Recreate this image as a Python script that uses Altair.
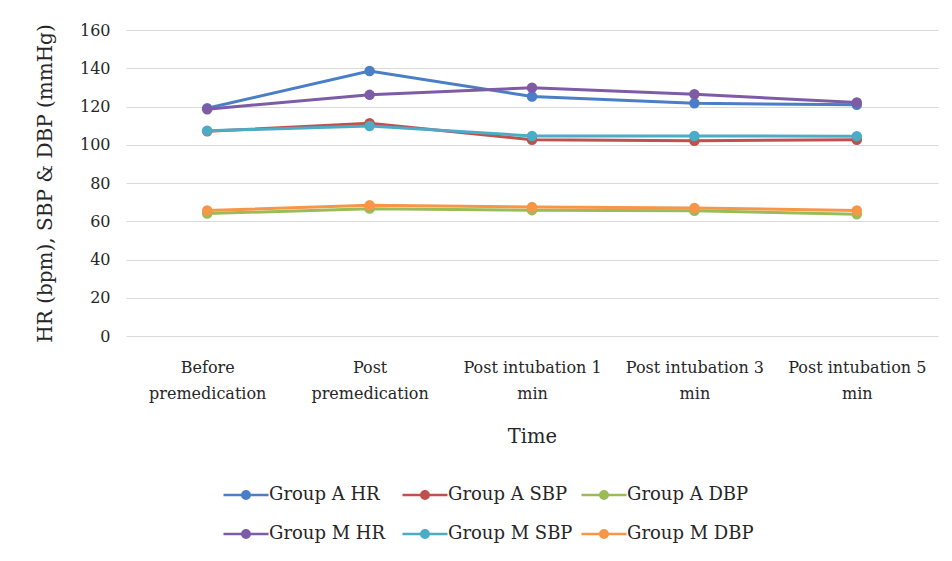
import altair as alt
import pandas as pd

# ---- data ----
time_points = [
    "Before premedication",
    "Post premedication",
    "Post intubation 1 min",
    "Post intubation 3 min",
    "Post intubation 5 min",
]
series_names = [
    "Group A HR", "Group A SBP", "Group A DBP",
    "Group M HR", "Group M SBP", "Group M DBP",
]
group_a_hr = [119.1, 138.6, 125.2, 121.7, 120.9]
group_a_sbp = [107.0, 111.2, 102.6, 102.1, 102.6]
group_a_dbp = [64.0, 66.6, 65.8, 65.5, 63.6]
group_m_hr = [118.6, 126.1, 129.8, 126.4, 122.1]
group_m_sbp = [107.3, 109.8, 104.6, 104.6, 104.5]
group_m_dbp = [65.6, 68.4, 67.4, 66.9, 65.6]
y_ticks = [0, 20, 40, 60, 80, 100, 120, 140, 160]

series_colors = {
    "Group A HR": "#4A7EC7",
    "Group A SBP": "#C0504D",
    "Group A DBP": "#9BBB59",
    "Group M HR": "#7D5BA6",
    "Group M SBP": "#4BACC6",
    "Group M DBP": "#F79646",
}

all_series = [group_a_hr, group_a_sbp, group_a_dbp, group_m_hr, group_m_sbp, group_m_dbp]
rows = []
for name, vals in zip(series_names, all_series):
    for t, v in zip(time_points, vals):
        rows.append({"Time": t, "Series": name, "Value": v})
df = pd.DataFrame(rows)

# legend fills column by column (2 rows x 3 columns): order the domain so
# that the grid reads row by row as in the reference
legend_order = [series_names[i] for i in (0, 3, 1, 4, 2, 5)]
color_scale = alt.Scale(domain=legend_order, range=[series_colors[s] for s in legend_order])

FONT = "DejaVu Serif"
TXT = "#262626"

x_enc = alt.X(
    "Time:N",
    sort=time_points,
    scale=alt.Scale(paddingInner=0, paddingOuter=0),
    axis=alt.Axis(
        title="Time",
        labelAngle=0,
        labelExpr="[substring(datum.label, 0, lastindexof(datum.label, ' ')), substring(datum.label, lastindexof(datum.label, ' ') + 1)]",
        labelLineHeight=26,
        labelPadding=23,
        labelFontSize=16,
        labelOverlap=False,
        labelLimit=300,
        ticks=False,
        domain=False,
        grid=False,
        titlePadding=26,
        titleFontSize=19.5,
    ),
)
y_enc = alt.Y(
    "Value:Q",
    scale=alt.Scale(domain=[0, 160], nice=False, zero=True),
    axis=alt.Axis(
        title="HR (bpm), SBP & DBP (mmHg)",
        values=y_ticks,
        ticks=False,
        domain=False,
        grid=True,
        gridColor="#D9D9D9",
        gridWidth=1,
        labelPadding=16,
        labelFontSize=16,
        titleFontSize=20,
        titleX=-81,
        titleBaseline="middle",
    ),
)

legend_path = (
    "M-1.5,-0.085L-0.3,-0.085L-0.3,0.085L-1.5,0.085Z "
    "M0.3,-0.085L1.5,-0.085L1.5,0.085L0.3,0.085Z "
    "M-0.33,0A0.33,0.33 0 1,1 0.33,0A0.33,0.33 0 1,1 -0.33,0Z"
)

lines = alt.Chart(df).mark_line(strokeWidth=3).encode(
    x=x_enc,
    y=y_enc,
    color=alt.Color("Series:N", scale=color_scale, legend=None),
    detail="Series:N",
)
points = alt.Chart(df).mark_point(filled=True, size=110, opacity=1).encode(
    x=x_enc,
    y=y_enc,
    color=alt.Color(
        "Series:N",
        scale=color_scale,
        legend=alt.Legend(
            title=None,
            orient="none",
            legendX=105,
            legendY=450,
            columns=3,
            gridAlign="all",
            columnPadding=6,
            rowPadding=15,
            symbolType=legend_path,
            symbolSize=900,
            symbolStrokeWidth=0,
            labelOffset=8,
            labelFontSize=18,
            labelFont=FONT,
            labelColor=TXT,
            padding=0,
        ),
    ),
)

chart = (
    alt.layer(lines, points)
    .resolve_legend(color="independent")
    .properties(
        width=812,
        height=306,
        autosize=alt.AutoSizeParams(type="none"),
        padding={"left": 118, "top": 22, "right": 2, "bottom": 215},
    )
    .configure(font=FONT)
    .configure_view(stroke=None)
    .configure_axis(
        labelFont=FONT,
        titleFont=FONT,
        labelColor=TXT,
        titleColor=TXT,
        titleFontWeight="normal",
    )
    .configure_legend(labelFont=FONT)
)

chart.save("out.html", embed_options={"renderer": "svg", "actions": False})
